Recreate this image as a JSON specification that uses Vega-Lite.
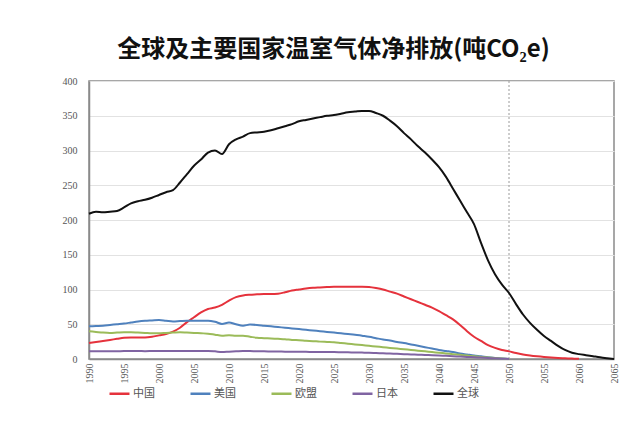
{
  "$schema": "https://vega.github.io/schema/vega-lite/v6.json",
  "autosize": {"type": "none"},
  "width": 525,
  "height": 278,
  "padding": {"left": 89, "top": 81, "right": 26, "bottom": 85},
  "background": "white",
  "config": {
    "view": {"stroke": "#8a8a8a", "strokeWidth": 1.5},
    "font": "Liberation Serif"
  },
  "title": {
    "text": "全球及主要国家温室气体净排放(吨CO₂e)",
    "font": "Noto Sans CJK SC",
    "fontSize": 24,
    "fontWeight": "bold",
    "color": "#111111",
    "anchor": "middle",
    "dx": -18,
    "offset": 14
  },
  "datasets": {
    "wide": [
      {"year": 1990, "中国": 23, "美国": 47, "欧盟": 40, "日本": 11, "全球": 209},
      {"year": 1991, "中国": 24.5, "美国": 47.5, "欧盟": 39, "日本": 11, "全球": 212},
      {"year": 1992, "中国": 26, "美国": 48, "欧盟": 38, "日本": 11, "全球": 211},
      {"year": 1993, "中国": 27.5, "美国": 49, "欧盟": 37.5, "日本": 11, "全球": 212},
      {"year": 1994, "中国": 29, "美国": 50, "欧盟": 38, "日本": 11.2, "全球": 213},
      {"year": 1995, "中国": 30.5, "美国": 51, "欧盟": 38.5, "日本": 11.4, "全球": 218},
      {"year": 1996, "中国": 31, "美国": 52.5, "欧盟": 38.5, "日本": 11.5, "全球": 224},
      {"year": 1997, "中国": 31, "美国": 54, "欧盟": 38, "日本": 11.5, "全球": 227},
      {"year": 1998, "中国": 31, "美国": 55, "欧盟": 37.5, "日本": 11.3, "全球": 229},
      {"year": 1999, "中国": 32, "美国": 55.5, "欧盟": 37, "日本": 11.4, "全球": 232},
      {"year": 2000, "中国": 34, "美国": 56, "欧盟": 37, "日本": 11.5, "全球": 236},
      {"year": 2001, "中国": 36, "美国": 55, "欧盟": 37.5, "日本": 11.4, "全球": 240},
      {"year": 2002, "中国": 39.5, "美国": 54, "欧盟": 38, "日本": 11.5, "全球": 243},
      {"year": 2003, "中国": 45, "美国": 54.5, "欧盟": 38.5, "日本": 11.5, "全球": 254},
      {"year": 2004, "中国": 53, "美国": 55, "欧盟": 38, "日本": 11.5, "全球": 266},
      {"year": 2005, "中国": 60, "美国": 55, "欧盟": 37.5, "日本": 11.5, "全球": 278},
      {"year": 2006, "中国": 67, "美国": 55, "欧盟": 37, "日本": 11.4, "全球": 287},
      {"year": 2007, "中国": 72, "美国": 55, "欧盟": 36.5, "日本": 11.6, "全球": 297},
      {"year": 2008, "中国": 74, "美国": 53.5, "欧盟": 35, "日本": 11, "全球": 300},
      {"year": 2009, "中国": 78, "美国": 50.5, "欧盟": 33.5, "日本": 10, "全球": 295},
      {"year": 2010, "中国": 84, "美国": 52.5, "欧盟": 34, "日本": 10.5, "全球": 309},
      {"year": 2011, "中国": 89, "美国": 50, "欧盟": 33.5, "日本": 11, "全球": 316},
      {"year": 2012, "中国": 91.5, "美国": 48, "欧盟": 33.5, "日本": 11.5, "全球": 320},
      {"year": 2013, "中国": 92.5, "美国": 49.5, "欧盟": 32, "日本": 11.5, "全球": 325},
      {"year": 2014, "中国": 93, "美国": 49, "欧盟": 30.5, "日本": 11, "全球": 326},
      {"year": 2015, "中国": 93.5, "美国": 48, "欧盟": 30, "日本": 11, "全球": 327},
      {"year": 2016, "中国": 93.5, "美国": 47, "欧盟": 29.5, "日本": 10.8, "全球": 329},
      {"year": 2017, "中国": 94, "美国": 46, "欧盟": 29, "日本": 10.7, "全球": 332},
      {"year": 2018, "中国": 96, "美国": 45, "欧盟": 28.5, "日本": 10.6, "全球": 335},
      {"year": 2019, "中国": 98.5, "美国": 44, "欧盟": 27.5, "日本": 10.5, "全球": 338},
      {"year": 2020, "中国": 100, "美国": 43, "欧盟": 27, "日本": 10.4, "全球": 342},
      {"year": 2021, "中国": 101.5, "美国": 42, "欧盟": 26.3, "日本": 10.3, "全球": 344},
      {"year": 2022, "中国": 102.5, "美国": 41, "欧盟": 25.7, "日本": 10.2, "全球": 346},
      {"year": 2023, "中国": 103, "美国": 40, "欧盟": 25, "日本": 10.1, "全球": 348},
      {"year": 2024, "中国": 103.5, "美国": 39, "欧盟": 24.5, "日本": 10, "全球": 350},
      {"year": 2025, "中国": 104, "美国": 38, "欧盟": 24, "日本": 10, "全球": 351},
      {"year": 2026, "中国": 104, "美国": 37, "欧盟": 23, "日本": 9.8, "全球": 353},
      {"year": 2027, "中国": 104, "美国": 36, "欧盟": 22, "日本": 9.6, "全球": 355},
      {"year": 2028, "中国": 104, "美国": 35, "欧盟": 21, "日本": 9.4, "全球": 356},
      {"year": 2029, "中国": 104, "美国": 33.5, "欧盟": 20, "日本": 9.2, "全球": 357},
      {"year": 2030, "中国": 103.5, "美国": 32, "欧盟": 19, "日本": 9, "全球": 357},
      {"year": 2031, "中国": 102, "美国": 30, "欧盟": 18, "日本": 8.6, "全球": 354},
      {"year": 2032, "中国": 100, "美国": 28, "欧盟": 17, "日本": 8.2, "全球": 350},
      {"year": 2033, "中国": 97, "美国": 26.5, "欧盟": 16, "日本": 7.8, "全球": 343},
      {"year": 2034, "中国": 94, "美国": 24.5, "欧盟": 15, "日本": 7.4, "全球": 335},
      {"year": 2035, "中国": 90, "美国": 23, "欧盟": 14, "日本": 7, "全球": 325},
      {"year": 2036, "中国": 86, "美国": 21, "欧盟": 13, "日本": 6.6, "全球": 316},
      {"year": 2037, "中国": 82, "美国": 19, "欧盟": 12, "日本": 6.2, "全球": 306},
      {"year": 2038, "中国": 78, "美国": 17, "欧盟": 11, "日本": 5.8, "全球": 297},
      {"year": 2039, "中国": 74, "美国": 15, "欧盟": 10, "日本": 5.4, "全球": 287},
      {"year": 2040, "中国": 69, "美国": 13, "欧盟": 9, "日本": 5, "全球": 276},
      {"year": 2041, "中国": 63, "美国": 11.5, "欧盟": 8, "日本": 4.5, "全球": 262},
      {"year": 2042, "中国": 57, "美国": 10, "欧盟": 7, "日本": 4, "全球": 245},
      {"year": 2043, "中国": 49, "美国": 8, "欧盟": 6, "日本": 3.5, "全球": 228},
      {"year": 2044, "中国": 40, "美国": 6.5, "欧盟": 5, "日本": 3, "全球": 211},
      {"year": 2045, "中国": 32, "美国": 5, "欧盟": 4, "日本": 2.5, "全球": 194},
      {"year": 2046, "中国": 26, "美国": 3.8, "欧盟": 3, "日本": 2, "全球": 167},
      {"year": 2047, "中国": 20, "美国": 2.5, "欧盟": 2.2, "日本": 1.5, "全球": 142},
      {"year": 2048, "中国": 16, "美国": 1.5, "欧盟": 1.4, "日本": 1, "全球": 122},
      {"year": 2049, "中国": 13, "美国": 0.7, "欧盟": 0.6, "日本": 0.5, "全球": 107},
      {"year": 2050, "中国": 11, "美国": 0, "欧盟": 0, "日本": 0, "全球": 95},
      {"year": 2051, "中国": 8.5, "全球": 79},
      {"year": 2052, "中国": 6.5, "全球": 64},
      {"year": 2053, "中国": 5, "全球": 52},
      {"year": 2054, "中国": 3.8, "全球": 42},
      {"year": 2055, "中国": 2.8, "全球": 33},
      {"year": 2056, "中国": 2, "全球": 26},
      {"year": 2057, "中国": 1.4, "全球": 19},
      {"year": 2058, "中国": 1, "全球": 13},
      {"year": 2059, "中国": 0.6, "全球": 9},
      {"year": 2060, "中国": 0.3, "全球": 7},
      {"year": 2061, "全球": 5.5},
      {"year": 2062, "全球": 4},
      {"year": 2063, "全球": 2.5},
      {"year": 2064, "全球": 1.2},
      {"year": 2065, "全球": 0}
    ],
    "marker": [{"year": 2050}]
  },
  "encoding": {
    "x": {
      "field": "year",
      "type": "quantitative",
      "scale": {"domain": [1990, 2065], "nice": false, "zero": false},
      "axis": {
        "title": null,
        "values": [1990, 1995, 2000, 2005, 2010, 2015, 2020, 2025, 2030, 2035, 2040, 2045, 2050, 2055, 2060, 2065],
        "format": "d",
        "labelAngle": -90,
        "labelOverlap": false,
        "labelBound": false,
        "labelFlush": false,
        "labelFont": "Liberation Serif",
        "labelFontSize": 10,
        "labelColor": "#555555",
        "labelPadding": 4,
        "grid": false,
        "ticks": false,
        "domainColor": "#8a8a8a",
        "domainWidth": 1.5
      }
    }
  },
  "layer": [
    {
      "data": {"name": "marker"},
      "mark": {"type": "rule", "color": "#9a9a9a", "strokeWidth": 1, "strokeDash": [2, 2]}
    },
    {
      "data": {"name": "wide"},
      "transform": [
        {"fold": ["中国", "美国", "欧盟", "日本", "全球"], "as": ["country", "value"]},
        {"filter": "isValid(datum.value)"}
      ],
      "mark": {"type": "line", "strokeWidth": 2, "interpolate": "monotone"},
      "encoding": {
        "y": {
          "field": "value",
          "type": "quantitative",
          "scale": {"domain": [0, 400], "nice": false},
          "axis": {
            "title": null,
            "values": [0, 50, 100, 150, 200, 250, 300, 350, 400],
            "labelFont": "Liberation Serif",
            "labelFontSize": 10,
            "labelColor": "#555555",
            "labelPadding": 12,
            "labelFlush": false,
            "ticks": false,
            "grid": true,
            "gridColor": "#e2e2e2",
            "gridWidth": 1,
            "domainColor": "#8a8a8a",
            "domainWidth": 1.5
          }
        },
        "color": {
          "field": "country",
          "type": "nominal",
          "scale": {
            "domain": ["中国", "美国", "欧盟", "日本", "全球"],
            "range": ["#e5323c", "#4f81bd", "#9bbb59", "#8064a2", "#111111"]
          },
          "legend": {
            "title": null,
            "orient": "none",
            "legendX": 19,
            "legendY": 301,
            "direction": "horizontal",
            "columnPadding": 30,
            "symbolType": "stroke",
            "symbolSize": 400,
            "symbolStrokeWidth": 2.5,
            "labelFont": "Noto Sans CJK SC",
            "labelFontSize": 11,
            "labelColor": "#555555",
            "labelOffset": 2
          }
        }
      }
    }
  ]
}
